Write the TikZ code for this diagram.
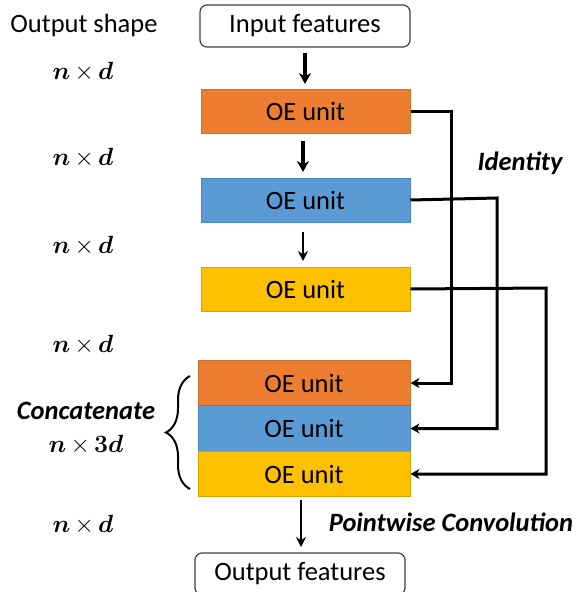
\documentclass[tikz,border=0pt]{standalone}
\usepackage{amsmath,bm}
\usepackage{fontspec}
\setmainfont{Carlito}
\usetikzlibrary{arrows.meta,decorations.pathreplacing}
\definecolor{oeorange}{HTML}{ED7D31}
\definecolor{oeorangeb}{HTML}{D0702C}
\definecolor{oeblue}{HTML}{5B9BD5}
\definecolor{oeblueb}{HTML}{4A86BE}
\definecolor{oeyellow}{HTML}{FFC000}
\definecolor{oeyellowb}{HTML}{D9A300}
\newcommand{\nxd}[1]{$\bm{n}\mkern3mu{\times}\mkern3mu\bm{#1}$}
\tikzset{
  iobox/.style={draw=black!75, line width=1.2pt, rounded corners=7pt, minimum height=42pt, inner sep=0pt},
  unit/.style={minimum width=209pt, minimum height=44pt, inner sep=0pt, line width=1pt},
  ounit/.style={unit, fill=oeorange, draw=oeorangeb},
  bunit/.style={unit, fill=oeblue, draw=oeblueb},
  yunit/.style={unit, fill=oeyellow, draw=oeyellowb},
  flow/.style={line width=3.4pt, -{Stealth[length=11pt,width=12pt]}},
  thinflow/.style={line width=2.4pt, -{Stealth[length=10pt,width=10pt]}},
  conn/.style={line width=3pt, -{Stealth[length=9pt,width=10pt]}},
  lbl/.style={inner sep=0pt},
  blbl/.style={inner sep=0pt, font=\fontsize{26.5}{30}\selectfont\bfseries\itshape},
  shp/.style={inner sep=0pt, font=\fontsize{25}{28}\selectfont}
}
\begin{document}
\begin{tikzpicture}[x=1pt,y=-1pt,font=\fontsize{26.5}{30}\selectfont]
\useasboundingbox (0,0) rectangle (585,592);
% main column
\node[iobox, minimum width=210pt] (in) at (305,26) {Input features};
\node[ounit] (oe1) at (305.5,111) {OE unit};
\node[bunit] (oe2) at (305.5,200) {OE unit};
\node[yunit] (oe3) at (305.5,289) {OE unit};
\node[ounit, minimum width=212pt, minimum height=45pt] (c1) at (304,383) {OE unit};
\node[bunit, minimum width=212pt, minimum height=46pt] (c2) at (304,428.5) {OE unit};
\node[yunit, minimum width=212pt, minimum height=45pt] (c3) at (304,474) {OE unit};
\node[iobox, minimum width=210pt] (out) at (300,574) {Output features};
% vertical arrows
\coordinate (a1s) at (305,53);
\coordinate (a2s) at (303,141);
\coordinate (a3s) at (303,232);
\coordinate (a4s) at (301,500);
\draw[flow] (a1s) -- (305,84) coordinate (a1e);
\draw[flow] (a2s) -- (303,172) coordinate (a2e);
\draw[thinflow] (a3s) -- (303,261) coordinate (a3e);
\draw[thinflow] (a4s) -- (301,547) coordinate (a4e);
% identity connectors
\draw[conn] (oe1.east) -- (451,111) |- (c1.east);
\draw[conn] (oe2.east) -- (497,198) |- (c2.east);
\draw[conn] (oe3.east) -- (546,288) |- (c3.east);
% brace
\draw[line width=2pt, decorate, decoration={brace, amplitude=24pt}] (190,489) -- (190,376) coordinate (brtop);
% labels
\node[lbl] (os) at (84,25) {Output shape};
\node[shp] (s1) at (83,72) {\nxd{d}};
\node[shp] (s2) at (83,158) {\nxd{d}};
\node[shp] (s3) at (83,246) {\nxd{d}};
\node[shp] (s4) at (83,345) {\nxd{d}};
\node[shp] (s5) at (83,525) {\nxd{d}};
\node[blbl] (cc) at (86,411) {Concatenate};
\node[shp] (s6) at (86,445) {\nxd{3d}};
\node[blbl] (id) at (520,163) {Identity};
\node[blbl] (pw) at (451,522) {Pointwise Convolution};
\end{tikzpicture}
\end{document}
